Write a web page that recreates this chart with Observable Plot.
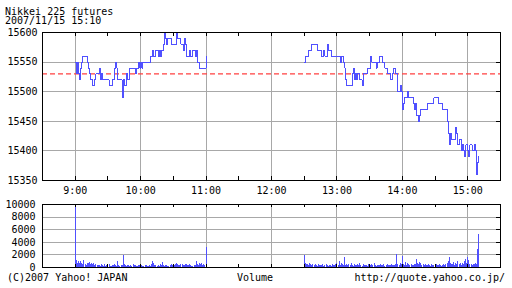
<!DOCTYPE html>
<html><head><meta charset="utf-8">
<script src="https://cdn.jsdelivr.net/npm/d3@7"></script>
<script src="https://cdn.jsdelivr.net/npm/@observablehq/plot@0.6"></script>
<style>
body{margin:0;background:#fff;}
#c{position:relative;width:512px;height:288px;overflow:hidden;font-family:"DejaVu Sans Mono",monospace;font-size:10px;color:#000;background:#fff;}
.t{position:absolute;line-height:8px;white-space:pre;z-index:2;}
#price,#vol{position:absolute;left:0;z-index:1;}
#price{top:0}
#vol{top:200px}
</style></head><body>
<div id="c">
<div id="price"></div><div id="vol"></div>
<div class="t" style="left:5px;top:8px">Nikkei 225 futures</div>
<div class="t" style="left:5px;top:17px">2007/11/15 15:10</div>
<div class="t" style="left:7px;top:274px">(C)2007 Yahoo! JAPAN</div>
<div class="t" style="left:237px;top:274px">Volume</div>
<div class="t" style="right:7px;top:274px">http://quote.yahoo.co.jp/</div>
</div>
<script>
// Morning session price change points
const amTimes = ["9:00","9:01","9:02","9:03","9:04","9:05","9:06","9:07","9:11","9:12","9:13","9:14","9:16","9:18","9:19","9:22","9:23","9:24","9:25","9:31","9:34","9:36","9:37","9:38","9:39","9:43","9:44","9:45","9:47","9:48","9:50","9:55","9:56","9:58","9:59","10:00","10:01","10:02","10:09","10:11","10:12","10:14","10:16","10:17","10:18","10:19","10:21","10:22","10:23","10:24","10:25","10:28","10:33","10:34","10:37","10:39","10:40","10:41","10:42","10:45","10:46","10:48","10:50","10:51","10:52","10:54","11:00"];
const amPrices = [15550,15530,15550,15530,15520,15540,15550,15560,15550,15540,15530,15520,15510,15520,15530,15540,15520,15530,15520,15510,15520,15540,15550,15540,15520,15490,15520,15510,15530,15520,15540,15530,15540,15550,15540,15550,15540,15550,15560,15570,15560,15570,15560,15570,15560,15570,15580,15600,15590,15580,15590,15580,15600,15590,15580,15570,15590,15580,15560,15570,15560,15570,15560,15570,15550,15540,15560];
// Afternoon session price change points
const pmTimes = ["12:30","12:31","12:34","12:37","12:42","12:46","12:48","12:49","12:51","12:52","12:55","13:03","13:04","13:06","13:07","13:08","13:09","13:14","13:15","13:16","13:17","13:18","13:19","13:21","13:23","13:24","13:28","13:31","13:32","13:36","13:37","13:39","13:42","13:44","13:46","13:49","13:51","13:52","13:54","13:56","13:58","13:59","14:00","14:01","14:02","14:05","14:06","14:10","14:11","14:12","14:13","14:15","14:16","14:17","14:23","14:29","14:33","14:37","14:41","14:42","14:43","14:44","14:45","14:49","14:50","14:51","14:52","14:54","14:55","14:56","14:57","14:58","15:00","15:01","15:02","15:04","15:06","15:07","15:08","15:09","15:10"];
const pmPrices = [15550,15560,15570,15580,15570,15560,15570,15560,15580,15570,15560,15550,15560,15550,15540,15520,15510,15530,15540,15520,15530,15520,15530,15520,15510,15530,15540,15560,15550,15540,15550,15560,15550,15540,15530,15520,15530,15540,15530,15500,15510,15500,15470,15480,15490,15500,15490,15480,15470,15480,15460,15450,15460,15470,15480,15490,15480,15470,15450,15430,15410,15430,15420,15440,15430,15410,15420,15400,15410,15400,15390,15410,15400,15390,15410,15400,15410,15400,15360,15380,15390];
const prevClose = 15530;

// Per-minute volume
const amVolStart = "9:00";
const amVolume = [
 9600,1100,700,900,600,1000,700,500,1100,400,
 300,700,650,800,500,700,400,600,300,500,
 350,250,300,200,450,300,150,550,200,300,
 250,400,200,150,300,250,450,300,200,1000,
 300,200,250,300,1900,400,300,200,350,250,
 150,300,200,550,250,300,200,150,250,300,
 550,250,200,150,300,250,200,150,350,200,
 450,900,700,250,300,200,350,150,400,250,
 750,300,200,350,250,200,150,300,400,250,
 200,300,500,700,450,350,300,400,550,350,
 300,500,400,300,250,500,350,200,150,300,
 250,1000,500,350,600,450,700,300,400,250,
 3200];
const pmVolStart = "12:30";
const pmVolume = [
 1900,700,400,500,300,600,450,300,500,250,
 400,300,200,500,350,250,300,450,200,300,
 400,250,150,300,350,200,550,300,250,400,
 650,300,900,250,700,400,300,1600,350,500,
 300,450,250,600,350,200,400,300,250,500,
 350,600,300,200,450,250,300,350,200,500,
 300,250,400,300,600,250,200,350,300,250,
 450,300,250,400,200,300,550,250,350,300,
 400,250,300,350,450,2000,500,300,600,400,
 1700,500,350,800,300,600,400,300,450,350,
 300,500,450,1300,700,400,800,600,350,450,
 300,400,250,350,500,300,200,400,250,300,
 350,450,300,250,400,300,200,350,500,300,
 400,600,1000,1600,700,500,400,800,350,600,
 500,900,400,700,350,600,450,1000,1300,600,
 1600,1100,500,400,300,500,400,600,500,2800,
 5200];

const hourLabels = ["9:00","10:00","11:00","12:00","13:00","14:00","15:00"];
const priceTickLabels = ["15350","15400","15450","15500","15550","15600"];
const volTickLabels = ["0","2000","4000","6000","8000","10000"];

const toMin = s => { const [h, m] = s.split(":").map(Number); return h * 60 + m; };
const amData = amTimes.map((t, i) => ({t: toMin(t), p: amPrices[i]}));
const pmData = pmTimes.map((t, i) => ({t: toMin(t), p: pmPrices[i]}));
const volData = [
  ...amVolume.map((v, i) => ({t: toMin(amVolStart) + i, v})),
  ...pmVolume.map((v, i) => ({t: toMin(pmVolStart) + i, v}))
];
const hourTicks = hourLabels.map(toMin);
const priceTicks = priceTickLabels.map(Number);
const volTicks = volTickLabels.map(Number);
const halfHours = d3.range(toMin("9:00"), toMin("15:00") + 1, 30);
const xDomain = [toMin("8:30"), toMin("15:30")];

const blue = "#5050ff", grid = "#a8a8a8";
const common = {
  width: 512, marginLeft: 42, marginRight: 12,
  style: {fontFamily: "DejaVu Sans Mono", fontSize: "10px", background: "none", overflow: "visible", color: "#000"}
};
const hourFmt = d => hourLabels[hourTicks.indexOf(d)];

const price = Plot.plot({
  ...common, height: 200, marginTop: 32, marginBottom: 20,
  x: {domain: xDomain, label: null},
  y: {domain: [15350, 15600], label: null},
  marks: [
    Plot.gridX(hourTicks, {stroke: grid, strokeOpacity: 1, shapeRendering: "crispEdges"}),
    Plot.gridY(priceTicks, {stroke: grid, strokeOpacity: 1, shapeRendering: "crispEdges"}),
    Plot.ruleY([prevClose], {stroke: "#ff4040", strokeOpacity: 1, strokeWidth: 1.2, strokeDasharray: "5,3"}),
    Plot.line(amData, {x: "t", y: "p", curve: "step-after", stroke: blue, strokeWidth: 1, shapeRendering: "crispEdges"}),
    Plot.line(pmData, {x: "t", y: "p", curve: "step-after", stroke: blue, strokeWidth: 1, shapeRendering: "crispEdges"}),
    Plot.ruleX(halfHours, {insetTop: 144, stroke: "black", shapeRendering: "crispEdges"}),
    Plot.ruleX(halfHours, {insetBottom: 144, stroke: "black", shapeRendering: "crispEdges"}),
    Plot.ruleY(priceTicks, {insetLeft: 454, stroke: "black", shapeRendering: "crispEdges"}),
    Plot.frame({stroke: "black", shapeRendering: "crispEdges"}),
    Plot.axisX(hourTicks, {anchor: "bottom", tickSize: 0, tickPadding: 6, tickFormat: hourFmt, label: null}),
    Plot.axisY(priceTicks, {anchor: "left", tickSize: 0, tickPadding: 5, tickFormat: d => priceTickLabels[priceTicks.indexOf(d)], label: null})
  ]
});
document.getElementById("price").appendChild(price);

const vol = Plot.plot({
  ...common, height: 70, marginTop: 4, marginBottom: 3,
  x: {domain: xDomain, label: null, axis: null},
  y: {domain: [0, 10000], label: null},
  marks: [
    Plot.gridX(hourTicks, {stroke: grid, strokeOpacity: 1, shapeRendering: "crispEdges"}),
    Plot.gridY(volTicks, {stroke: grid, strokeOpacity: 1, shapeRendering: "crispEdges"}),
    Plot.ruleX(volData, {x: "t", y1: 0, y2: "v", stroke: blue, strokeWidth: 1, shapeRendering: "crispEdges"}),
    Plot.ruleX(halfHours, {insetTop: 60, stroke: "black", shapeRendering: "crispEdges"}),
    Plot.ruleX(halfHours, {insetBottom: 60, stroke: "black", shapeRendering: "crispEdges"}),
    Plot.ruleY(volTicks, {insetLeft: 454, stroke: "black", shapeRendering: "crispEdges"}),
    Plot.frame({stroke: "black", shapeRendering: "crispEdges"}),
    Plot.axisY(volTicks, {anchor: "left", tickSize: 0, tickPadding: 7, tickFormat: d => volTickLabels[volTicks.indexOf(d)], label: null})
  ]
});
document.getElementById("vol").appendChild(vol);
</script>
</body></html>
